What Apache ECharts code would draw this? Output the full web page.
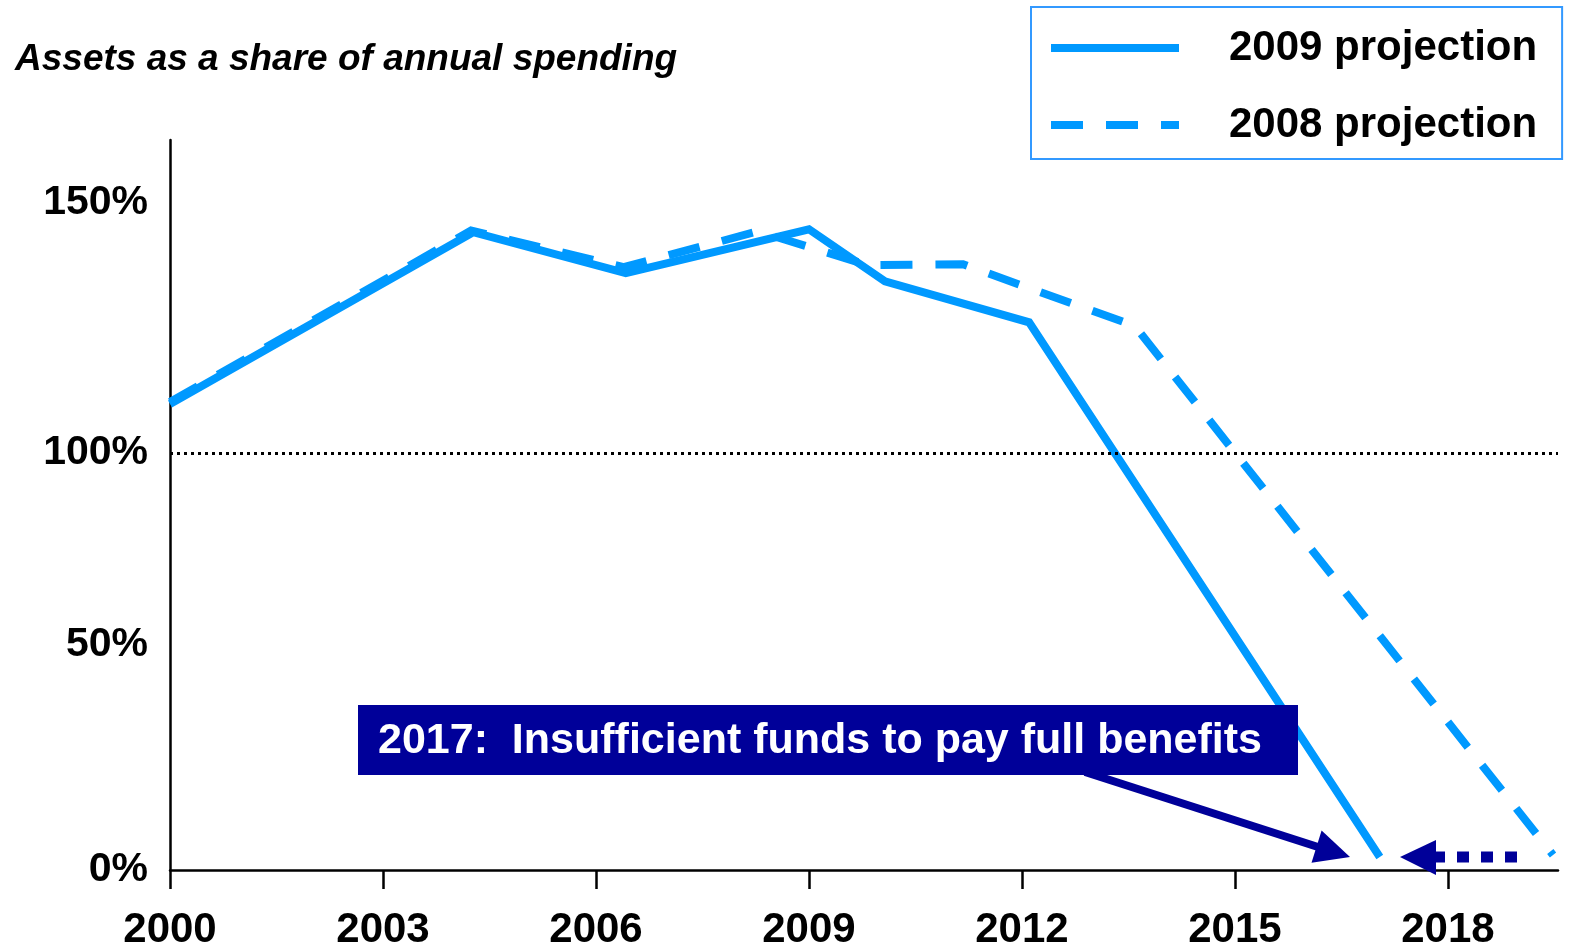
<!DOCTYPE html>
<html><head><meta charset="utf-8">
<script src="https://cdn.jsdelivr.net/npm/echarts@6/dist/echarts.min.js"></script>
<style>html,body{margin:0;padding:0;background:#fff}#c{width:1573px;height:951px}</style>
</head><body><div id="c"></div>
<script>
// ---- data ----
const years2009 = [2000, 2004.27, 2006.42, 2009.0, 2010.07, 2012.1, 2017.04];
const values2009 = [111.7, 152.9, 143.1, 153.6, 141.1, 131.3, 3.1];
const years2008 = [2000, 2004.24, 2006.39, 2008.28, 2009.83, 2011.17, 2013.59, 2019.48];
const values2008 = [112.2, 153.3, 144.5, 153.1, 145.0, 145.2, 130.4, 3.6];
const xTickYears = [2000, 2003, 2006, 2009, 2012, 2015, 2018];
const yTickLabels = ['0%', '50%', '100%', '150%'];
const yTickLabelValues = [0, 54, 100, 160];
const referenceLevel = 100;
const seriesNames = ['2009 projection', '2008 projection'];
const titleText = 'Assets as a share of annual spending';
const noteText = '2017:  Insufficient funds to pay full benefits';

const FONT = '"Liberation Sans", Arial, Helvetica, sans-serif';
const LINE = '#0099ff';
const NAVY = '#000099';

const chart = echarts.init(document.getElementById('c'), null, {renderer: 'canvas'});
const pairs = (xs, ys) => xs.map((x, i) => [x, ys[i]]);

chart.setOption({
  animation: false,
  backgroundColor: '#fff',
  title: {
    text: titleText, left: 15, top: 41, padding: 0,
    textStyle: {fontFamily: FONT, fontSize: 37, fontWeight: 'bold', fontStyle: 'italic', color: '#000'}
  },
  legend: {
    orient: 'vertical', left: 1031, top: 7,
    padding: [20, 25, 13, 16], itemGap: 35,
    itemWidth: 128, itemHeight: 2,
    borderColor: '#3399ff', borderWidth: 2,
    lineStyle: {width: 8},
    itemStyle: {opacity: 0},
    textStyle: {fontFamily: FONT, fontSize: 42, fontWeight: 'bold', color: '#000', padding: [0, 0, 0, 45]},
    data: seriesNames
  },
  grid: {left: 170, right: 15, top: 140, bottom: 79, containLabel: false},
  xAxis: {
    type: 'value', min: 2000, max: 2019.55,
    axisLine: {show: true, onZero: false, lineStyle: {color: '#000', width: 2.5}},
    axisTick: {show: true, customValues: xTickYears, length: 19, lineStyle: {color: '#000', width: 2.5}},
    axisLabel: {customValues: xTickYears, margin: 39, formatter: v => String(v),
      fontFamily: FONT, fontSize: 42, fontWeight: 'bold', color: '#000'},
    splitLine: {show: false}
  },
  yAxis: {
    type: 'value', min: 0, max: 175,
    axisLine: {show: true, lineStyle: {color: '#000', width: 2.5}},
    axisTick: {show: false},
    axisLabel: {
      customValues: yTickLabelValues, margin: 22,
      formatter: v => yTickLabels[yTickLabelValues.indexOf(v)] || '',
      fontFamily: FONT, fontSize: 41, fontWeight: 'bold', color: '#000'
    },
    splitLine: {show: false}
  },
  series: [
    {
      name: seriesNames[0], type: 'line', symbol: 'none',
      data: pairs(years2009, values2009),
      itemStyle: {color: LINE},
      lineStyle: {color: LINE, width: 8, type: 'solid', join: 'miter', cap: 'butt'},
      markLine: {
        silent: true, symbol: ['none', 'none'],
        label: {show: false},
        lineStyle: {color: '#000', type: [3, 4], width: 3},
        data: [{yAxis: referenceLevel}]
      },
      z: 3
    },
    {
      name: seriesNames[1], type: 'line', symbol: 'none',
      data: pairs(years2008, values2008),
      itemStyle: {color: LINE},
      lineStyle: {color: LINE, width: 8, type: [32, 23], join: 'miter', cap: 'butt'},
      z: 3
    }
  ],
  graphic: [
    {type: 'line', z: 10, shape: {x1: 1085, y1: 772, x2: 1318, y2: 847},
     style: {stroke: NAVY, lineWidth: 8}},
    {type: 'polygon', z: 10, shape: {points: [[1350, 857], [1321.6, 830.4], [1311.5, 862.8]]},
     style: {fill: NAVY}},
    {type: 'rect', z: 11, shape: {x: 358, y: 705, width: 940, height: 70}, style: {fill: NAVY}},
    {type: 'text', z: 12, x: 378, y: 741,
     style: {text: noteText, fill: '#fff', font: 'bold 43px ' + FONT, verticalAlign: 'middle', align: 'left'}},
    {type: 'line', z: 10, shape: {x1: 1517, y1: 857, x2: 1434, y2: 857},
     style: {stroke: NAVY, lineWidth: 11, lineDash: [12, 12], lineCap: 'butt'}},
    {type: 'polygon', z: 10, shape: {points: [[1400, 857], [1436, 840], [1436, 875]]},
     style: {fill: NAVY}}
  ]
});
</script>
</body></html>
